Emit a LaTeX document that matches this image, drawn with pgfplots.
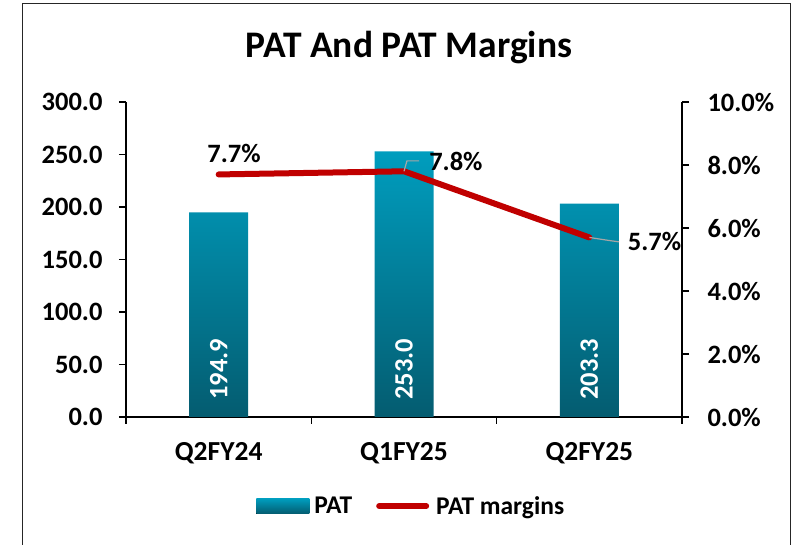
\documentclass[border=0pt]{standalone}
\usepackage{pgfplots}
\pgfplotsset{compat=1.18}
\usepackage{fontspec}
\setmainfont{Carlito}
\definecolor{bartop}{RGB}{0,157,190}
\definecolor{barbot}{RGB}{4,92,112}
\definecolor{linered}{RGB}{192,0,0}
\definecolor{leader}{RGB}{166,166,166}
\newcommand{\tfont}{\bfseries\fontsize{26.5}{30}\selectfont}
\begin{document}
\begin{tikzpicture}[x=1pt,y=1pt]
\path[use as bounding box] (0,0) rectangle (798,545);
\draw[line width=1.6pt, black!85] (22.5,-20) rectangle (790.5,541.5);
\node[font=\bfseries\fontsize{37.5}{42}\selectfont] at (409,497) {PAT And PAT Margins};
\begin{axis}[
  at={(126pt,128pt)}, anchor=south west,
  scale only axis, width=556pt, height=315pt,
  xmin=-0.5, xmax=2.5, ymin=0, ymax=300,
  axis x line*=bottom, axis y line*=left,
  axis line style={-, line width=1.5pt, black},
  xtick={0,1,2}, xticklabels={Q2FY24,Q1FY25,Q2FY25},
  major x tick style={draw=none},
  minor xtick={-0.5,0.5,1.5,2.5},
  ytick={0,50,...,300},
  tick align=outside,
  major tick length=7pt, minor tick length=7pt,
  tick style={line width=1.5pt, black},
  yticklabel={\pgfmathprintnumber[fixed,fixed zerofill,precision=1,assume math mode=true]{\tick}},
  ticklabel style={font=\tfont},
  yticklabel style={xshift=-13pt},
  xticklabel style={yshift=-15pt, font=\bfseries\fontsize{27.5}{30}\selectfont},
  legend columns=2,
  legend style={at={(0.513,-0.283)}, anchor=center, draw=none, fill=none,
    font=\bfseries\fontsize{25.5}{28}\selectfont,
    /tikz/every even column/.append style={column sep=22pt}},
  clip=false,
]
\addplot[ybar, bar width=59pt, draw=none, top color=bartop, bottom color=barbot,
  nodes near coords={\pgfmathprintnumber[fixed,fixed zerofill,precision=1,assume math mode=true]{\pgfplotspointmeta}},
  visualization depends on=rawy \as \rawy,
  every node near coord/.append style={shift={(axis direction cs:0,-\rawy)}, rotate=90, anchor=west, inner sep=0pt, xshift=17pt, text=white, font=\tfont},
  legend image code/.code={\fill[top color=bartop,bottom color=barbot] (0pt,-7.5pt) rectangle (53pt,7.5pt);}
] coordinates {(0,194.9) (1,253.0) (2,203.3)};
\addlegendentry{\hspace{3pt}PAT}
\addlegendimage{linered, line width=6pt, line cap=round, legend image code/.code={\draw[linered, line width=6pt, line cap=round] (3pt,0pt) -- (50pt,0pt);}}
\addlegendentry{\hspace{5pt}PAT margins}
\end{axis}
\begin{axis}[
  at={(126pt,128pt)}, anchor=south west,
  scale only axis, width=556pt, height=315pt,
  xmin=-0.5, xmax=2.5, ymin=0, ymax=10,
  axis x line=none, axis y line*=right,
  axis line style={-, line width=1.5pt, black},
  ytick={0,2,...,10},
  tick align=outside, major tick length=7pt, tick style={line width=1.5pt,black},
  yticklabel={\pgfmathprintnumber[fixed,fixed zerofill,precision=1,assume math mode=true]{\tick}\%},
  yticklabel style={font=\tfont, anchor=west, xshift=15pt},
  clip=false,
]
\addplot[linered, line width=6pt, line cap=round, line join=round] coordinates {(0,7.7) (1,7.8) (2,5.7)};
\draw[leader, line width=1.2pt] (axis cs:1,7.8) -- (axis cs:1.016,8.13) -- (axis cs:1.081,8.13);
\draw[leader, line width=1.2pt] (axis cs:2,5.7) -- (axis cs:2.11,5.6) -- (axis cs:2.16,5.56);
\node[font=\tfont] at (axis cs:0.083,8.35) {7.7\%};
\node[font=\tfont] at (axis cs:1.28,8.10) {7.8\%};
\node[font=\tfont] at (axis cs:2.352,5.56) {5.7\%};
\end{axis}
\end{tikzpicture}
\end{document}
